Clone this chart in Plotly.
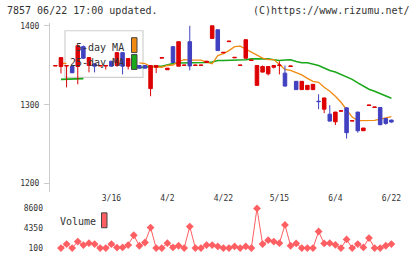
import plotly.graph_objects as go

# ---------------- data ----------------
idx = list(range(-1, 60))
opens = [1349, 1348.4, 1349, 1348.4, 1348.4, 1373.6, 1349.7, 1351.8, 1349, 1349, 1355.1,
         1349.7, 1366, 1348.8, 1358.9, 1349.7, 1349.7, 1320.4, 1347.5, 1359, 1344.3,
         1373.6, 1348.8, 1349.7, 1379.9, 1349.7, 1349.7, 1353.5, 1384, 1395, 1365.7,
         1379.9, 1359.4, 1349.7, 1358.9, 1356, 1324.5, 1341.3, 1339.2, 1347.5, 1349.7,
         1340, 1348.4, 1329.6, 1319.1, 1319.1, 1319.1, 1304.4, 1294.3, 1288, 1278.3,
         1291.8, 1296, 1279.2, 1290.6, 1267, 1299, 1296.5, 1296.5, 1282.6, 1280.5]
highs = [1349.6, 1360, 1349.6, 1350, 1375, 1375, 1360, 1352, 1350, 1350, 1355.5,
         1366.5, 1366.5, 1359, 1359, 1350, 1350, 1350, 1350, 1359.7, 1346.5,
         1374, 1380, 1350.2, 1400, 1350.2, 1350.2, 1355.5, 1400, 1395.5, 1366.3,
         1380.5, 1360, 1350.2, 1382.4, 1356.5, 1349.7, 1349.7, 1348.5, 1349.7, 1355.1,
         1349.7, 1349, 1330, 1329.6, 1324.5, 1325.8, 1313.2, 1309, 1299.4, 1291,
         1292.3, 1296.5, 1279.8, 1291, 1270.5, 1299.5, 1297, 1297, 1283, 1281]
lows = [1349, 1339.6, 1322, 1340, 1325.8, 1358, 1341, 1341, 1349, 1344.6, 1348,
        1348, 1338.4, 1344.6, 1349, 1346, 1346, 1310.7, 1340, 1359, 1344,
        1353, 1348.5, 1349.7, 1343.4, 1349.7, 1349.7, 1353, 1384, 1368, 1365.7,
        1379.9, 1359.4, 1349.7, 1358.9, 1356, 1324.5, 1341, 1337.1, 1345.9, 1338.4,
        1323, 1348.4, 1319, 1319, 1319, 1318.5, 1294.3, 1289.3, 1279, 1274.2,
        1291.8, 1257, 1279.2, 1264.5, 1267, 1299, 1296.5, 1274, 1274.6, 1277.1]
closes = [1349.6, 1359.7, 1349.6, 1340.5, 1374.8, 1358.9, 1359.7, 1348.8, 1349.7, 1349.7, 1348.8,
          1366, 1348.8, 1358.5, 1349.7, 1346.3, 1346.3, 1349.7, 1349.7, 1359.7, 1346.3,
          1353.5, 1379.9, 1350.2, 1349.1, 1350.2, 1350.2, 1355.1, 1400, 1368.6, 1366.3,
          1380.5, 1360, 1350.2, 1382.4, 1356.5, 1349.7, 1348.4, 1348.4, 1349.7, 1350.2,
          1323.6, 1349, 1319.1, 1329.6, 1324.5, 1325.8, 1303.9, 1308.5, 1279.2, 1290.6,
          1292.3, 1264.5, 1279.8, 1267, 1270.4, 1299.5, 1297, 1274.6, 1276.3, 1278]
ma5 = [None, 1352.2, 1352.3, None, None, None, None, None, None, None, None,
       None, None, None, None, 1353, 1352.2, 1348.4, 1348, 1347.5, 1349.7,
       1350.3, 1354.7, 1357.2, 1356.4, 1356.4, 1356.4, 1354, 1351.8, 1362.3, 1364.8,
       1368.6, 1373.6, 1374.2, 1370.4, 1366, 1362.9, 1359.1, 1357.2, 1357.2, 1351,
       1344.7, 1343.4, 1340.9, 1337.7, 1333.3, 1329.6, 1328.3, 1322, 1317, 1310.7,
       1303.1, 1294.3, 1284.3, 1279.9, 1280, 1280, 1280, 1281.8, 1283.6, 1284.9]
ma25 = [None, 1332.1, 1332.1, 1332.1, 1332.1, 1333, None, None, None, None, None,
        None, None, None, None, 1347, 1347.5, 1348.8, 1348.8, 1348.8, 1350.6,
        1352.2, 1352.8, 1352.8, 1352.8, 1352.8, 1353.1, 1353.5, 1354.1, 1356, 1356,
        1356, 1356.6, 1356.9, 1356.9, 1358.1, 1358.1, 1358.1, 1358.1, 1356.9, 1356,
        1356.6, 1356.9, 1354.7, 1353.1, 1353.1, 1351.8, 1349.7, 1346.5, 1343.4, 1341.5,
        1338.4, 1335.2, 1332.1, 1327.7, 1323.3, 1319.5, 1317, 1313.8, 1310.7, 1308.2]
volume = [None, 100, 950, 100, 1500, 750, 1150, 950, 100, 100, 950,
          200, 250, 750, 2850, 600, 1300, 4500, 100, 100, 1150,
          250, 600, 100, 4700, 100, 100, 750, 750, 450, 100,
          100, 450, 100, 450, 100, 8600, 950, 1800, 1500, 1150,
          5050, 600, 1100, 100, 100, 100, 3650, 1100, 1150, 800,
          100, 1950, 100, 950, 250, 2250, 100, 100, 600, 950]
tick_pos = [9, 19, 29, 39, 49, 59]
tick_text = ["3/16", "4/2", "4/22", "5/15", "6/4", "6/22"]
price_ticks = [1200, 1300, 1400]
vol_ticks = [100, 4350, 8600]

# ---------------- styling ----------------
W, H = 420, 259
L, R = 50, 20
RED, BLUE = "#dd0000", "#4040c0"
ORANGE, GREEN = "#f08a10", "#1aa81a"
VOLC = "#ff5f62"
MONO = "DejaVu Sans Mono"
TXT = "#333333"
AX = "#cccccc"


def px_x(p):
    return (p - L) / (W - L - R)


def px_y(p):
    return 1 - p / H


fig = go.Figure()

# moving averages on base price axes
fig.add_trace(go.Scatter(x=idx, y=ma25, mode="lines", line=dict(color=GREEN, width=1.6),
                         connectgaps=False, xaxis="x", yaxis="y", showlegend=False))
fig.add_trace(go.Scatter(x=idx, y=ma5, mode="lines", line=dict(color=ORANGE, width=1.3),
                         connectgaps=False, xaxis="x", yaxis="y", showlegend=False))
# candles on overlaying axis (drawn above MAs)
fig.add_trace(go.Candlestick(
    x=idx, open=opens, high=highs, low=lows, close=closes,
    increasing=dict(line=dict(color=RED, width=1), fillcolor=RED),
    decreasing=dict(line=dict(color=BLUE, width=1), fillcolor=BLUE),
    whiskerwidth=0, xaxis="x", yaxis="y3", showlegend=False, hoverinfo="skip"))
# volume
fig.add_trace(go.Scatter(x=idx, y=volume, mode="lines+markers",
                         line=dict(color=VOLC, width=1),
                         marker=dict(symbol="diamond", size=6, color=VOLC),
                         xaxis="x2", yaxis="y2", showlegend=False))

xr = [-1.96, 60.54]
main_dom = [px_y(192), px_y(22)]
pr = [1189.94, 1403.77]
vol_dom = [px_y(253), px_y(205)]
vr = [-750, 9450]

fig.update_layout(
    width=W, height=H,
    margin=dict(l=L, r=R, t=0, b=0),
    paper_bgcolor="white", plot_bgcolor="white",
    showlegend=False,
    boxgap=0.1,
    xaxis=dict(domain=[0, 1], range=xr, tickvals=tick_pos, ticktext=tick_text,
               showgrid=False, zeroline=False, showline=False, ticks="",
               tickfont=dict(family=MONO, size=8, color=TXT),
               rangeslider=dict(visible=False), anchor="y", ticklabelstandoff=0),
    yaxis=dict(domain=main_dom, range=pr, tickvals=price_ticks,
               showgrid=False, zeroline=False, showline=True, linecolor=AX, linewidth=1,
               ticks="outside", ticklen=5, tickcolor=AX,
               tickfont=dict(family=MONO, size=8, color=TXT), ticklabelstandoff=3),
    yaxis3=dict(overlaying="y", range=pr, visible=False, anchor="x"),
    xaxis2=dict(domain=[0, 1], range=xr, visible=False, anchor="y2"),
    yaxis2=dict(domain=vol_dom, range=vr, tickvals=vol_ticks,
                showgrid=False, zeroline=False, showline=False, ticks="",
                tickfont=dict(family=MONO, size=8, color=TXT), ticklabelstandoff=6,
                anchor="x2"),
)

shapes = [
    # MA legend box
    dict(type="rect", xref="paper", yref="paper", x0=px_x(65), x1=px_x(143),
         y0=px_y(77), y1=px_y(30), line=dict(color="#d0d0d0", width=1.2),
         fillcolor="white", layer="below"),
    dict(type="rect", xref="paper", yref="paper", x0=px_x(131.5), x1=px_x(137),
         y0=px_y(52), y1=px_y(37), line=dict(color="#444444", width=1),
         fillcolor=ORANGE, layer="above"),
    dict(type="rect", xref="paper", yref="paper", x0=px_x(131.5), x1=px_x(137),
         y0=px_y(69), y1=px_y(54), line=dict(color="#444444", width=1),
         fillcolor=GREEN, layer="above"),
    # volume legend swatch
    dict(type="rect", xref="paper", yref="paper", x0=px_x(101.5), x1=px_x(107),
         y0=px_y(228.5), y1=px_y(213.5), line=dict(color="#444444", width=1),
         fillcolor=VOLC, layer="above"),
]
fig.update_layout(shapes=shapes)

anns = [
    dict(text="7857 06/22 17:00 updated.", x=px_x(5), y=px_y(9.5), xanchor="left"),
    dict(text="(C)https://www.rizumu.net/", x=px_x(412), y=px_y(9.5), xanchor="right"),
    dict(text="5-day MA", x=px_x(125.5), y=px_y(46.5), xanchor="right"),
    dict(text="25-day MA", x=px_x(125.5), y=px_y(62), xanchor="right"),
    dict(text="Volume", x=px_x(58), y=px_y(222), xanchor="left"),
]
for a in anns:
    a.update(xref="paper", yref="paper", yanchor="middle", showarrow=False,
             font=dict(family=MONO, size=10, color=TXT))
fig.update_layout(annotations=anns)

fig.write_html("out.html")
